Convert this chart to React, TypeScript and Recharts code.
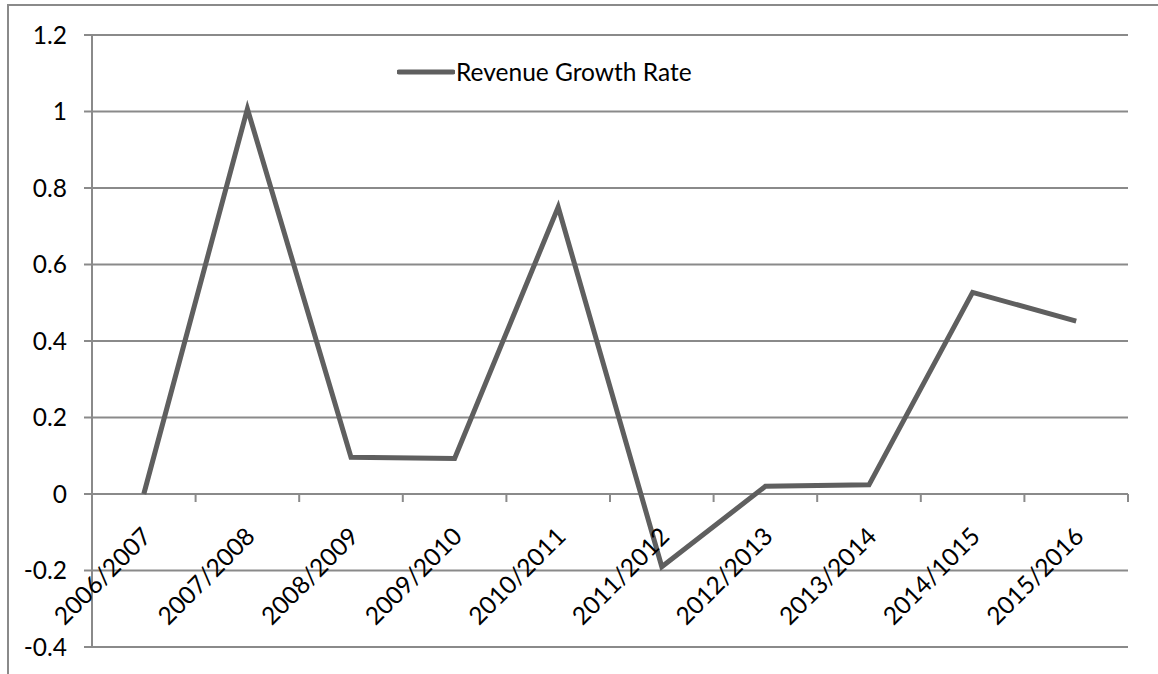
import React from 'react';
import { LineChart, Line, XAxis, YAxis, CartesianGrid, Legend } from 'recharts';

const categories = ['2006/2007', '2007/2008', '2008/2009', '2009/2010', '2010/2011', '2011/2012', '2012/2013', '2013/2014', '2014/1015', '2015/2016'];
const growthRate = [0, 1.007, 0.096, 0.093, 0.75, -0.19, 0.02, 0.024, 0.527, 0.452];
const yTicks = [-0.4, -0.2, 0, 0.2, 0.4, 0.6, 0.8, 1, 1.2];
const seriesName = 'Revenue Growth Rate';

const data = categories.map((c, i) => ({ period: c, rate: growthRate[i] }));

const W = 1158;
const H = 674;
const M_TOP = 35;
const M_RIGHT = 30;
const Y_W = 92;
const X_H = 27;
const PLOT_LEFT = Y_W;
const PLOT_RIGHT = W - M_RIGHT;
const PLOT_TOP = M_TOP;
const PLOT_H = H - M_TOP - X_H;
const Y_MIN = yTicks[0];
const Y_MAX = yTicks[yTicks.length - 1];
const ZERO_Y = PLOT_TOP + (PLOT_H * (Y_MAX - 0)) / (Y_MAX - Y_MIN);
const BW = (PLOT_RIGHT - PLOT_LEFT) / categories.length;

const FONT = 'Lato, "Noto Sans", sans-serif';
const FS = 24.5;
const GRID = '#8a8a8a';
const LINE = '#5f5f5f';

const XTick = (props: any) => {
  const { x, payload, index } = props;
  const isLast = index === categories.length - 1;
  return (
    <g>
      <line x1={x - BW / 2} x2={x - BW / 2} y1={ZERO_Y} y2={ZERO_Y + 8} stroke={GRID} strokeWidth={2} />
      {isLast && <line x1={x + BW / 2} x2={x + BW / 2} y1={ZERO_Y} y2={ZERO_Y + 8} stroke={GRID} strokeWidth={2} />}
      <text
        x={0}
        y={0}
        transform={`translate(${x + 9},${ZERO_Y + 44}) rotate(-45)`}
        textAnchor="end"
        fontFamily={FONT}
        fontSize={FS}
        fill="#000"
      >
        {payload.value}
      </text>
    </g>
  );
};

const LegendContent = () => (
  <div style={{ display: 'flex', alignItems: 'center', fontFamily: FONT, fontSize: FS, color: '#000', whiteSpace: 'nowrap' }}>
    <svg width={58} height={10} style={{ display: 'block' }}>
      <line x1={2} x2={56} y1={5} y2={5} stroke={LINE} strokeWidth={5} strokeLinecap="round" />
    </svg>
    <span style={{ marginLeft: 1, lineHeight: '28px' }}>{seriesName}</span>
  </div>
);

export default function App() {
  return (
    <div style={{ position: 'absolute', left: 0, top: 0, width: W, height: H, background: '#fff', overflow: 'hidden' }}>
      <div
        style={{
          position: 'absolute',
          left: 7,
          top: 4,
          width: W,
          height: H,
          borderLeft: `2px solid ${GRID}`,
          borderTop: `2px solid ${GRID}`,
        }}
      />
      <LineChart width={W} height={H} data={data} margin={{ top: M_TOP, right: M_RIGHT, left: 0, bottom: 0 }}>
        <CartesianGrid vertical={false} stroke={GRID} strokeWidth={2} />
        <XAxis
          dataKey="period"
          scale="band"
          height={X_H}
          axisLine={false}
          tickLine={false}
          interval={0}
          tick={<XTick />}
        />
        <YAxis
          width={Y_W}
          domain={[Y_MIN, Y_MAX]}
          ticks={yTicks}
          interval={0}
          axisLine={{ stroke: GRID, strokeWidth: 2 }}
          tickLine={{ stroke: GRID, strokeWidth: 2 }}
          tickSize={8}
          tickMargin={17}
          tick={{ fill: '#000', fontSize: FS, fontFamily: FONT }}
        />
        <Legend
          layout="horizontal"
          verticalAlign="middle"
          align="center"
          content={<LegendContent />}
          wrapperStyle={{ position: 'absolute', left: 397, top: 58, width: 'auto' }}
        />
        <Line
          type="linear"
          dataKey="rate"
          name={seriesName}
          stroke={LINE}
          strokeWidth={5}
          dot={false}
          activeDot={false}
          isAnimationActive={false}
        />
      </LineChart>
    </div>
  );
}
